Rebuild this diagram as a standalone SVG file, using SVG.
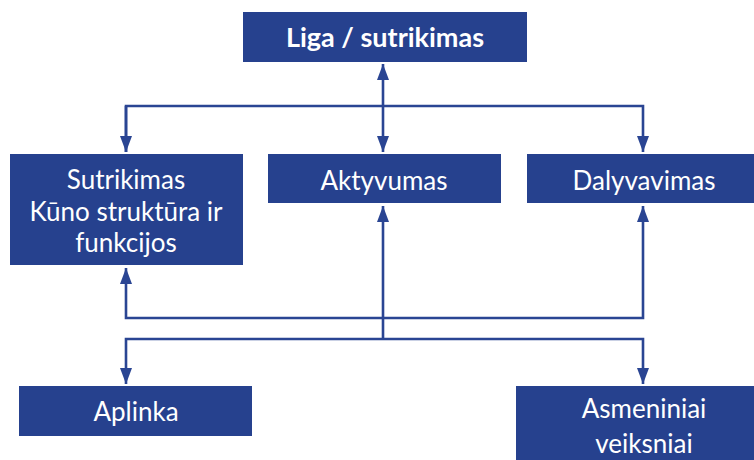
<svg xmlns="http://www.w3.org/2000/svg" width="754" height="460" viewBox="0 0 754 460">
<style>
.box{fill:#26418e}
.t{fill:#fff;font-family:Lato,"Open Sans",sans-serif;font-size:26px;text-anchor:middle}
.b{font-weight:bold;font-size:27px}
.c{fill:none;stroke:#2a4593;stroke-width:2.6}
</style>
<defs>
<marker id="ahl" viewBox="0 0 16 12" refX="16" refY="6" markerWidth="16" markerHeight="12" markerUnits="userSpaceOnUse" orient="auto-start-reverse">
<path d="M0,0 L16,6 L0,12 Z" fill="#2a4593"/>
</marker>
</defs>
<g id="connectors">
<path class="c" d="M383,64 V152" marker-start="url(#ahl)" marker-end="url(#ahl)"/>
<path class="c" d="M126,152 V106 H643 V152" marker-end="url(#ahl)"/>
<path class="c" d="M126,106 V152" marker-end="url(#ahl)"/>
<path class="c" d="M383,339 V206" marker-end="url(#ahl)"/>
<path class="c" d="M643,206 V318 H126 V268" marker-start="url(#ahl)" marker-end="url(#ahl)"/>
<path class="c" d="M126,384 V339 H643 V384" marker-start="url(#ahl)" marker-end="url(#ahl)"/>
</g>
<g id="liga">
<rect class="box" x="243" y="12" width="284" height="50"/>
<text class="t b" x="385" y="47">Liga / sutrikimas</text>
</g>
<g id="sutrikimas">
<rect class="box" x="10" y="154" width="233" height="111"/>
<text class="t" x="126" y="189">Sutrikimas</text>
<text class="t" x="126" y="220.5">Kūno struktūra ir</text>
<text class="t" x="126" y="252">funkcijos</text>
</g>
<g id="aktyvumas">
<rect class="box" x="268" y="154" width="233" height="49"/>
<text class="t" x="384" y="190">Aktyvumas</text>
</g>
<g id="dalyvavimas">
<rect class="box" x="527" y="154" width="227" height="49"/>
<text class="t" x="644" y="190">Dalyvavimas</text>
</g>
<g id="aplinka">
<rect class="box" x="19" y="386" width="233" height="50"/>
<text class="t" x="136" y="421">Aplinka</text>
</g>
<g id="asmeniniai">
<rect class="box" x="516" y="386" width="238" height="74"/>
<text class="t" x="644" y="418">Asmeniniai</text>
<text class="t" x="644" y="453">veiksniai</text>
</g>
</svg>
